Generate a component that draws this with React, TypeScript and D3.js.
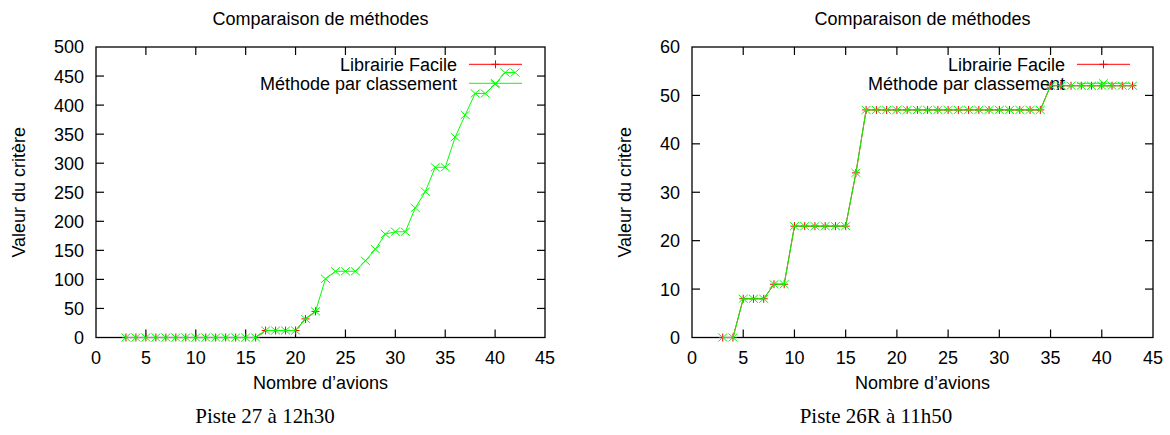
import React from 'react';
import * as d3 from 'd3';

// Shared axis ticks
const xTicks = [0, 5, 10, 15, 20, 25, 30, 35, 40, 45];
const yTicksPiste27 = [0, 50, 100, 150, 200, 250, 300, 350, 400, 450, 500];
const yTicksPiste26R = [0, 10, 20, 30, 40, 50, 60];

// Piste 27 à 12h30
const avionsFacile27 = [3, 4, 5, 6, 7, 8, 9, 10, 11, 12, 13, 14, 15, 16, 17, 18, 19, 20, 21, 22];
const valeursFacile27 = [0, 0, 0, 0, 0, 0, 0, 0, 0, 0, 0, 0, 0, 0, 12, 12, 12, 12, 32, 45];
const avionsClassement27 = [
  3, 4, 5, 6, 7, 8, 9, 10, 11, 12, 13, 14, 15, 16, 17, 18, 19, 20, 21, 22,
  23, 24, 25, 26, 27, 28, 29, 30, 31, 32, 33, 34, 35, 36, 37, 38, 39, 40, 41, 42,
];
const valeursClassement27 = [
  0, 0, 0, 0, 0, 0, 0, 0, 0, 0, 0, 0, 0, 0, 12, 12, 12, 12, 32, 45,
  101, 114, 114, 114, 132, 152, 178, 182, 182, 223, 251, 293, 293, 345, 383, 420, 420, 436, 456, 456,
];

// Piste 26R à 11h50
const avions26R = [
  3, 4, 5, 6, 7, 8, 9, 10, 11, 12, 13, 14, 15, 16, 17, 18, 19, 20, 21, 22, 23,
  24, 25, 26, 27, 28, 29, 30, 31, 32, 33, 34, 35, 36, 37, 38, 39, 40, 41, 42, 43,
];
const valeursFacile26R = [
  0, 0, 8, 8, 8, 11, 11, 23, 23, 23, 23, 23, 23, 34, 47, 47, 47, 47, 47, 47, 47,
  47, 47, 47, 47, 47, 47, 47, 47, 47, 47, 47, 52, 52, 52, 52, 52, 52, 52, 52, 52,
];
const valeursClassement26R = [
  0, 0, 8, 8, 8, 11, 11, 23, 23, 23, 23, 23, 23, 34, 47, 47, 47, 47, 47, 47, 47,
  47, 47, 47, 47, 47, 47, 47, 47, 47, 47, 47, 52, 52, 52, 52, 52, 52, 52, 52, 52,
];

const SANS = '"Liberation Sans", Arial, Helvetica, sans-serif';
const SERIF = '"Liberation Serif", "Times New Roman", serif';
const RED = '#ff0000';
const GREEN = '#00ff00';
const TICK = 8;

type Serie = { nom: string; x: number[]; y: number[]; couleur: string; marque: 'plus' | 'croix' };

function plusPath(x: number, y: number) {
  return `M${x - 4},${y}H${x + 4}M${x},${y - 4}V${y + 4}`;
}
function croixPath(x: number, y: number) {
  return `M${x - 4.5},${y - 4}L${x + 4.5},${y + 4}M${x - 4.5},${y + 4}L${x + 4.5},${y - 4}`;
}

function Graphique(props: {
  left: number;
  right: number;
  yMax: number;
  yTicks: number[];
  series: Serie[];
  legende: string;
  yLabelX: number;
  legendeX: number;
}) {
  const { left, right, yMax, yTicks, series, legende, yLabelX, legendeX } = props;
  const top = 47;
  const bottom = 337.5;
  const x = d3.scaleLinear().domain([0, 45]).range([left, right]);
  const y = d3.scaleLinear().domain([0, yMax]).range([bottom, top]);
  const cx = (left + right) / 2;

  const legX1 = right - 23;
  const legX0 = right - 76;
  const legTextX = right - 88;

  return (
    <g>
      <text x={cx} y={25} textAnchor="middle" fontFamily={SANS} fontSize={18} fill="#000">
        Comparaison de méthodes
      </text>
      <rect x={left} y={top} width={right - left} height={bottom - top} fill="none" stroke="#000" strokeWidth={1.3} />
      {xTicks.map((t) => (
        <g key={'x' + t}>
          {t > 0 && t < 45 && (
            <>
              <line x1={x(t)} x2={x(t)} y1={bottom} y2={bottom - TICK} stroke="#000" strokeWidth={1.2} />
              <line x1={x(t)} x2={x(t)} y1={top} y2={top + TICK} stroke="#000" strokeWidth={1.2} />
            </>
          )}
          <text x={x(t)} y={364} textAnchor="middle" fontFamily={SANS} fontSize={18} fill="#000">
            {t}
          </text>
        </g>
      ))}
      {yTicks.map((t) => (
        <g key={'y' + t}>
          {t > 0 && t < yMax && (
            <>
              <line x1={left} x2={left + TICK} y1={y(t)} y2={y(t)} stroke="#000" strokeWidth={1.2} />
              <line x1={right} x2={right - TICK} y1={y(t)} y2={y(t)} stroke="#000" strokeWidth={1.2} />
            </>
          )}
          <text x={left - 12} y={y(t)} dy="0.36em" textAnchor="end" fontFamily={SANS} fontSize={18} fill="#000">
            {t}
          </text>
        </g>
      ))}
      <text
        transform={`translate(${yLabelX},${(top + bottom) / 2}) rotate(-90)`}
        textAnchor="middle"
        fontFamily={SANS}
        fontSize={18}
        fill="#000"
      >
        Valeur du critère
      </text>
      <text x={cx} y={389} textAnchor="middle" fontFamily={SANS} fontSize={18} fill="#000">
        Nombre d’avions
      </text>
      <text x={legendeX} y={423} textAnchor="middle" fontFamily={SERIF} fontSize={21} fill="#000">
        {legende}
      </text>
      {series.map((s, k) => {
        const path = d3
          .line<number>()
          .x((_, i) => x(s.x[i]))
          .y((v) => y(v))(s.y);
        const ly = 64.3 + k * 19;
        const mk = s.marque === 'plus' ? plusPath : croixPath;
        return (
          <g key={s.nom}>
            <text x={legTextX} y={ly + 6.4} textAnchor="end" fontFamily={SANS} fontSize={18} fill="#000">
              {s.nom}
            </text>
            <line x1={legX0} x2={legX1} y1={ly} y2={ly} stroke={s.couleur} strokeWidth={1} />
            <path d={mk((legX0 + legX1) / 2, ly)} stroke={s.couleur} strokeWidth={1} fill="none" />
            <path d={path || ''} fill="none" stroke={s.couleur} strokeWidth={1} />
            {s.y.map((v, i) => (
              <path key={i} d={mk(x(s.x[i]), y(v))} stroke={s.couleur} strokeWidth={1} fill="none" />
            ))}
          </g>
        );
      })}
    </g>
  );
}

export default function App() {
  const series27: Serie[] = [
    { nom: 'Librairie Facile', x: avionsFacile27, y: valeursFacile27, couleur: RED, marque: 'plus' },
    { nom: 'Méthode par classement', x: avionsClassement27, y: valeursClassement27, couleur: GREEN, marque: 'croix' },
  ];
  const series26R: Serie[] = [
    { nom: 'Librairie Facile', x: avions26R, y: valeursFacile26R, couleur: RED, marque: 'plus' },
    { nom: 'Méthode par classement', x: avions26R, y: valeursClassement26R, couleur: GREEN, marque: 'croix' },
  ];
  return (
    <svg
      width={1170}
      height={435}
      style={{ position: 'absolute', left: 0, top: 0, background: '#fff' }}
    >
      <rect width={1170} height={435} fill="#fff" />
      <Graphique
        left={96}
        right={545}
        yMax={500}
        yTicks={yTicksPiste27}
        series={series27}
        legende="Piste 27 à 12h30"
        yLabelX={25}
        legendeX={265}
      />
      <Graphique
        left={692}
        right={1153}
        yMax={60}
        yTicks={yTicksPiste26R}
        series={series26R}
        legende="Piste 26R à 11h50"
        yLabelX={631}
        legendeX={876}
      />
    </svg>
  );
}
